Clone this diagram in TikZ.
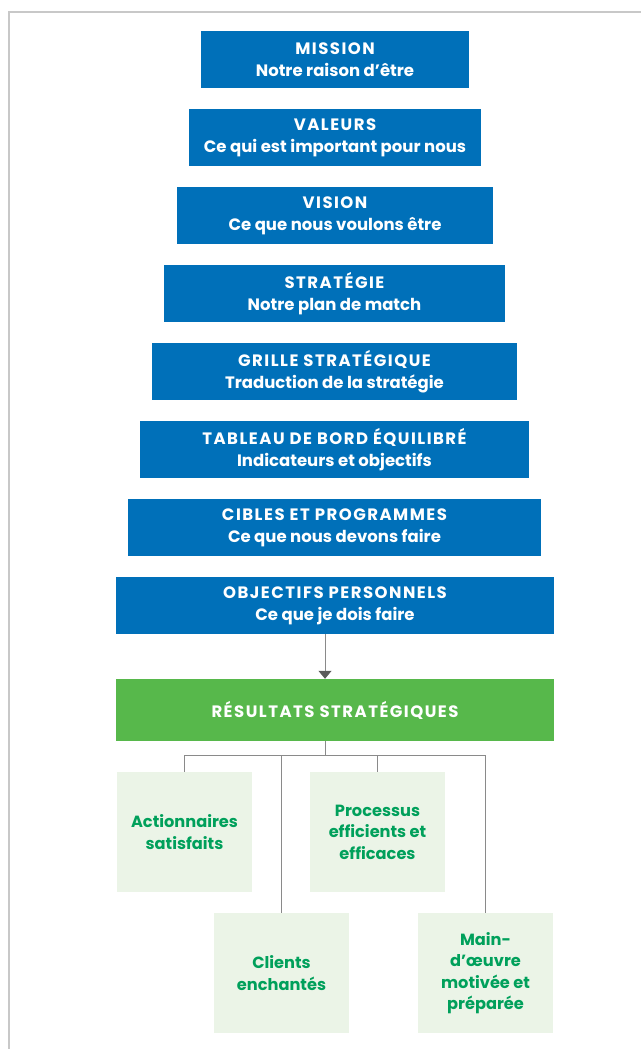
\documentclass[tikz,border=0pt]{standalone}
\usepackage{fontspec}
\setmainfont{Poppins}
\usetikzlibrary{arrows.meta,calc}
\definecolor{bluebox}{HTML}{0070B9}
\definecolor{greenbox}{HTML}{57B84B}
\definecolor{lightbox}{HTML}{EBF4E7}
\definecolor{greentext}{HTML}{00A05B}
\definecolor{linegray}{HTML}{8A8A8A}
\definecolor{framegray}{HTML}{C8C8C8}
\definecolor{tipgray}{HTML}{5A5A5A}
\newcommand\capsline[1]{{\addfontfeature{LetterSpace=9}#1}}
\begin{document}
\begin{tikzpicture}[x=1pt,y=-1pt,
  bluestep/.style={fill=bluebox, text=white, minimum height=57pt, inner sep=0pt, align=center,
    font=\fontsize{16.5}{22}\selectfont\bfseries},
  resbox/.style={fill=greenbox, text=white, minimum height=62pt, minimum width=438pt, inner sep=0pt,
    font=\fontsize{16.5}{22}\selectfont\bfseries},
  outbox/.style={fill=lightbox, text=greentext, minimum width=135pt, minimum height=120pt, inner sep=0pt,
    align=center, font=\fontsize{16.2}{21.5}\selectfont\bfseries},
  conn/.style={draw=linegray, line width=1pt}
]
\useasboundingbox (0,0) rectangle (641,1049);
\draw[framegray, line width=1.2pt] (9,1049) -- (9,12) -- (641,12);

\node[bluestep, minimum width=268pt] (mis) at (335,59.5) {\capsline{MISSION}\\Notre raison d’être};
\node[bluestep, minimum width=292pt] (val) at (335,137.5) {\capsline{VALEURS}\\Ce qui est important pour nous};
\node[bluestep, minimum width=316pt] (vis) at (335,215.5) {\capsline{VISION}\\Ce que nous voulons être};
\node[bluestep, minimum width=341pt] (str) at (334.5,293.5) {\capsline{STRATÉGIE}\\Notre plan de match};
\node[bluestep, minimum width=365pt] (gri) at (334.5,371.5) {\capsline{GRILLE STRATÉGIQUE}\\Traduction de la stratégie};
\node[bluestep, minimum width=389pt] (tab) at (334.5,449.5) {\capsline{TABLEAU DE BORD ÉQUILIBRÉ}\\Indicateurs et objectifs};
\node[bluestep, minimum width=413pt] (cib) at (334.5,527.5) {\capsline{CIBLES ET PROGRAMMES}\\Ce que nous devons faire};
\node[bluestep, minimum width=438pt] (obj) at (335,605.5) {\capsline{OBJECTIFS PERSONNELS}\\Ce que je dois faire};

\node[resbox] (res) at (335,710) {\capsline{RÉSULTATS STRATÉGIQUES}};

\node[outbox] (act) at (184.5,832) {Actionnaires\\satisfaits};
\node[outbox] (pro) at (377.5,832) {Processus\\efficients et\\efficaces};
\node[outbox] (cli) at (281.5,973) {Clients\\enchantés};
\node[outbox] (mai) at (485.5,973) {Main-\\d’œuvre\\motivée et\\préparée};

\coordinate (jn) at (325,755);
\draw[conn, -{Triangle[length=8pt,width=13pt,fill=tipgray,color=tipgray]}] (obj.south -| jn) -- (res.north -| jn);
\draw[conn] (res.south -| jn) -- (jn);
\draw[conn] (jn -| act.north) -- (jn -| mai.north);
\draw[conn] (jn -| act.north) -- (act.north);
\draw[conn] (jn -| pro.north) -- (pro.north);
\draw[conn] (jn -| cli.north) -- (cli.north);
\draw[conn] (jn -| mai.north) -- (mai.north);
\end{tikzpicture}
\end{document}
